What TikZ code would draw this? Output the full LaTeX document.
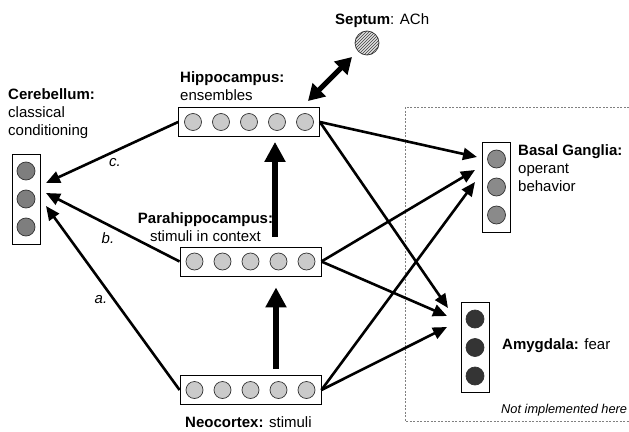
\documentclass[tikz,border=0pt]{standalone}
\usepackage{fontspec}
\setmainfont{Liberation Sans}
\usetikzlibrary{arrows.meta,positioning,patterns,calc}
\definecolor{cellgray}{HTML}{CACACA}
\definecolor{cerebgray}{HTML}{7E7E7E}
\definecolor{basalgray}{HTML}{8A8A8A}
\definecolor{amyggray}{HTML}{343434}

\begin{document}
\begin{tikzpicture}[x=1pt,y=-1pt,
  layer/.style={draw,line width=0.8pt,minimum width=141pt,minimum height=29pt,inner sep=0pt},
  column/.style={draw,line width=0.8pt,minimum width=28pt,minimum height=90pt,inner sep=0pt},
  cell/.style={draw=black!80,line width=0.7pt},
  conn/.style={line width=2.6pt,-{Triangle[length=14pt,width=12pt]}},
  feed/.style={line width=6.5pt,-{Triangle[length=20pt,width=20pt]}},
  lbl/.style={font=\fontsize{15}{18}\selectfont,inner sep=0pt,align=left},
  tag/.style={font=\fontsize{15}{17}\selectfont\itshape,inner sep=0pt}]
\useasboundingbox (0,0) rectangle (629,431);
% Not implemented region
  \draw[dashed,gray,line width=0.5pt,dash pattern=on 2pt off 1.5pt] (629,107) -- (405,107) -- (405,421) -- (629,421);
  \node[tag,font=\fontsize{12.8}{15}\selectfont\itshape,anchor=base west] (notimpl) at (501,413) {Not implemented here};
% Cortical layers
  \node[layer] (hippo) at (249,122) {};
  \node[layer] (para) at (250.5,261.5) {};
  \node[layer] (neo) at (250.5,390) {};
  \foreach \lay in {hippo,para,neo}
    \foreach \i in {-2,...,2}
      \filldraw[cell,fill=cellgray] ($(\lay)+(\i*28,0)$) circle (8.5pt);
  \node[lbl,anchor=north west] (hippolbl) at (180,71.5) {\textbf{Hippocampus:}\\ensembles};
  \node[lbl,align=center,anchor=north] (paralbl) at (205.5,212.5) {\textbf{Parahippocampus:}\\stimuli in context};
  \node[lbl,anchor=base west] (neolbl) at (185,427) {\textbf{Neocortex:} stimuli};
% Output modules
  \node[column] (cereb) at (26,199) {};
  \node[column] (basal) at (496.5,187) {};
  \node[column] (amyg) at (475,347.5) {};
  \foreach \i in {-1,0,1}{
    \filldraw[cell,fill=cerebgray] ($(cereb)+(0,\i*28)$) circle (9pt);
    \filldraw[cell,fill=basalgray] ($(basal)+(0,\i*28)$) circle (9pt);
    \filldraw[cell,fill=amyggray] ($(amyg)+(0,\i*28.5)$) circle (9pt);
  }
  \node[lbl,anchor=north west] (cereblbl) at (8,88) {\textbf{Cerebellum:}\\classical\\conditioning};
  \node[lbl,anchor=north west] (basallbl) at (518,144) {\textbf{Basal Ganglia:}\\operant\\behavior};
  \node[lbl,anchor=base west] (amyglbl) at (502,349) {\textbf{Amygdala:} fear};
% Septum
  \node[circle,draw=black!80,line width=0.7pt,minimum size=24pt,inner sep=0pt,
        preaction={fill=black!12},pattern=north east lines,pattern color=black!75] (septum) at (367,43) {};
  \node[lbl,anchor=base west] (septlbl) at (335,24) {\textbf{Septum}: ACh};
  \coordinate (hipin) at (308,101);
  \coordinate (septin) at (352,57);
  \draw[line width=5pt,{Triangle[length=16pt,width=18pt]}-{Triangle[length=16pt,width=18pt]}] (hipin) -- (septin);
% Feedforward
  \draw[feed] ([xshift=25.5pt,yshift=6pt]neo.north) -- ([xshift=25.5pt,yshift=-11pt]para.south);
  \draw[feed] ([xshift=24.5pt,yshift=10pt]para.north) -- ([xshift=26pt,yshift=-5pt]hippo.south);
% To cerebellum
  \coordinate (cerc) at (46,183);
  \coordinate (cerb) at (46,193);
  \coordinate (cera) at (46,206);
  \draw[conn] (hippo.west) -- (cerc);
  \draw[conn] (para.west) -- (cerb);
  \draw[conn] (neo.west) -- (cera);
  \node[tag] (tagc) at (115,163) {c.};
  \node[tag] (tagb) at (108,238) {b.};
  \node[tag] (taga) at (101,300) {a.};
% To basal ganglia and amygdala
  \coordinate (bg1) at (477,157);
  \coordinate (bg2) at (475,170);
  \coordinate (bg3) at (475,182);
  \coordinate (am1) at (448,308);
  \coordinate (am2) at (447,316);
  \coordinate (am3) at (447,327);
  \draw[conn] (hippo.east) -- (bg1);
  \draw[conn] (para.east) -- (bg2);
  \draw[conn] (neo.east) -- (bg3);
  \draw[conn] (hippo.east) -- (am1);
  \draw[conn] (para.east) -- (am2);
  \draw[conn] (neo.east) -- (am3);
\end{tikzpicture}
\end{document}
